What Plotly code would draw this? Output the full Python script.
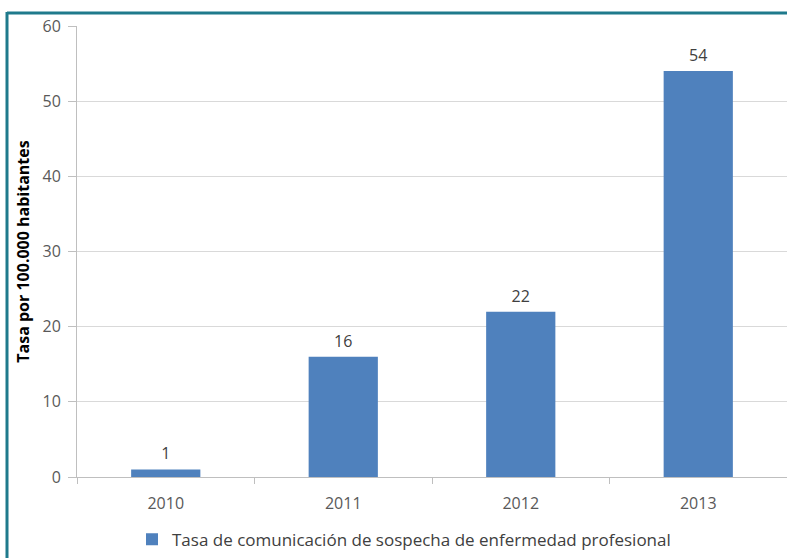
import plotly.graph_objects as go

years = ["2010", "2011", "2012", "2013"]
rates = [1, 16, 22, 54]
series_name = "Tasa de comunicación de sospecha de enfermedad profesional"
y_title = "Tasa por 100.000 habitantes"

W, H = 787, 558
L, R, T, B = 77, 0, 26, 78
pw = W - L - R
ph = H - T - B

def px_x(x):
    return (x - L) / pw

def px_y(y):
    return (H - B - y) / ph

fig = go.Figure()
fig.add_trace(go.Bar(
    x=years, y=rates, name=series_name,
    marker=dict(color="#4f81bd", line=dict(width=0)),
    width=0.39,
    showlegend=True,
))

# data labels
fig.add_trace(go.Scatter(
    x=years, y=rates, mode="markers+text", text=[str(v) for v in rates],
    textposition="top center",
    marker=dict(size=8, color="rgba(0,0,0,0)"),
    textfont=dict(size=16, color="#404040", family="Open Sans"),
    showlegend=False, hoverinfo="skip", cliponaxis=False,
))

fig.update_layout(
    width=W, height=H,
    margin=dict(l=L, r=R, t=T, b=B),
    paper_bgcolor="white", plot_bgcolor="white",
    font=dict(family="Open Sans", size=16, color="#595959"),
    showlegend=True,
    legend=dict(orientation="h", x=px_x(132), xanchor="left", y=px_y(543), yanchor="middle",
                font=dict(size=17, color="#404040"), itemwidth=30),
    xaxis=dict(type="category", range=[-0.5, 3.5], showline=True, linecolor="#bfbfbf", linewidth=1,
               ticks="outside", tickson="boundaries", ticklen=6, tickcolor="#bfbfbf",
               ticklabelstandoff=12,
               tickfont=dict(size=16, color="#595959"), showgrid=False, fixedrange=True),
    yaxis=dict(range=[0, 60], dtick=10, showline=True, linecolor="#bfbfbf", linewidth=1,
               ticks="outside", ticklen=8, tickcolor="#bfbfbf", ticklabelstandoff=4,
               gridcolor="#d9d9d9", gridwidth=1, zeroline=False,
               tickfont=dict(size=16, color="#595959"),
               title=dict(text="<b>" + y_title + "</b>", font=dict(size=16, color="#000000"), standoff=8)),
)

# frame border (top and left)
border = "#1f7a8c"
fig.add_shape(type="line", xref="paper", yref="paper", x0=px_x(7), x1=px_x(800), y0=px_y(13), y1=px_y(13),
              line=dict(color=border, width=3))
fig.add_shape(type="line", xref="paper", yref="paper", x0=px_x(7), x1=px_x(7), y0=px_y(12), y1=px_y(570),
              line=dict(color=border, width=3))

fig.write_html("out.html", config={"displayModeBar": False},
               post_script="document.body.style.margin='0';document.body.style.overflow='hidden';")
